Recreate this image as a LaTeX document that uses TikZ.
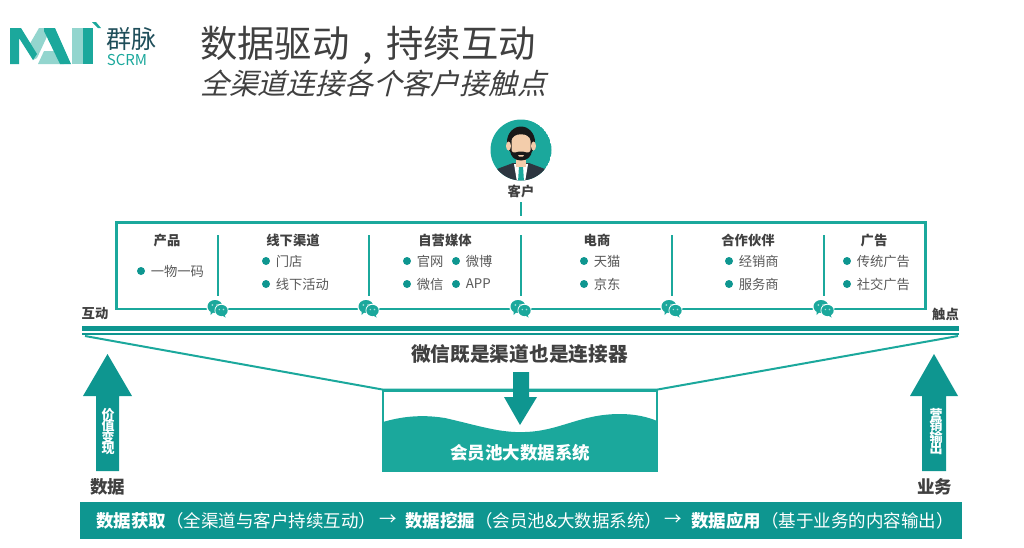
\documentclass[tikz,border=0pt]{standalone}
\usepackage{fontspec}
\usepackage{tikz}
\setmainfont{Noto Sans CJK SC}
\newfontfamily\slantcjk[FakeSlant=0.25]{Noto Sans CJK SC}
\usetikzlibrary{arrows}

\definecolor{maiteal}{HTML}{0E9690}
\definecolor{mailine}{HTML}{1BA89C}
\definecolor{mailight}{HTML}{93D5CE}
\definecolor{maideep}{HTML}{1F4E5A}
\definecolor{maidark}{HTML}{404040}
\definecolor{maigray}{HTML}{595959}
\definecolor{suitgray}{HTML}{2D3640}
\definecolor{skintone}{HTML}{F3CDAB}

% sizes are given in pixels of the picture, 1px = .75pt
\newcommand{\px}[1]{\fontsize{\fpeval{#1*.75}}{\fpeval{#1*.9}}\selectfont}

\tikzset{
  heading/.style={text=maidark,font=\px{13.3}\bfseries,inner sep=0},
  itemtext/.style={text=maigray,font=\px{13.3},anchor=west,inner sep=0},
  itemdot/.style={circle,fill=maiteal,inner sep=0,minimum size=6pt},
  upshaft/.style={fill=maiteal},
  stacked/.style={text=white,font=\px{13}\bfseries,inner sep=0,align=center},
  barbold/.style={text=white,font=\px{17.5}\bfseries,anchor=west,inner sep=0},
  chat/.pic={
    \fill[white] (0,0) circle (11);
    \fill[mailine] (-2.5,-1.5) ellipse (7.5 and 6.5);
    \fill[mailine] (-7,3) -- (-7,7) -- (-3,3);
    \fill[white] (3.8,2.5) circle (6.8);
    \fill[mailine] (4,2.5) ellipse (6.2 and 5.6);
    \fill[mailine] (7,6) -- (8,9.5) -- (4,7);
    \fill[white!60!mailine] (-5.2,-3) circle (1) (-.3,-3) circle (1) (1.8,1.5) circle (.8) (6,1.5) circle (.8);
  }
}

\begin{document}
\begin{tikzpicture}[x=.75pt,y=-.75pt,line cap=butt]
\useasboundingbox (0,0) rectangle (1024,547);

% logo
\fill[mailight] (28,47) -- (39,28) -- (51,28) -- (37,58) -- (33,60);
\fill[mailight] (44,51) -- (60,51) -- (64,64) -- (38,64);
\fill[mailight] (72,28) -- (83,28) -- (83,64) -- (72,64);
\fill[mailine] (10,28) -- (21,28) -- (37,54) -- (33,60) -- (19,38) -- (19,64) -- (10,64) -- cycle;
\fill[mailine] (44,28) -- (55,28) -- (71,64) -- (60,64) -- (44,31);
\fill[mailine] (83,28) -- (93,28) -- (93,64) -- (83,64);
\fill[mailine] (92,22) -- (96,22) -- (101,28) -- (98,28);
\node (logotext) at (131,39.5) [inner sep=0,text=maideep,font=\px{25}] {群脉};
\node (logoscrm) at (127,59.5) [inner sep=0,text=mailine,font=\px{15}] {SCRM};

\node (maintitle) at (368,45) [inner sep=0,text=maidark,font=\px{37.3}] {数据驱动\makebox[28pt]{,}持续互动};
\node (subtitle) at (373,83) [inner sep=0,text=maidark,font=\slantcjk\px{28.8}] {全渠道连接各个客户接触点};

% customer
\begin{scope}
\clip (521,150) circle (30.5);
\fill[mailine] (521,150) circle (30.5);
\fill[suitgray] (490,182) -- (497,169) -- (513,163) -- (529,163) -- (545,169) -- (552,182);
\fill[white] (514,164) -- (528,164) -- (525,182) -- (517,182);
\fill[mailine] (519,166) -- (523,166) -- (524,182) -- (518,182);
\fill[skintone] (516,155) rectangle (526,167);
\fill[black!90] (521,142) ellipse (14 and 15.5);
\fill[skintone] (508.5,146) ellipse (2.5 and 4.5) (533.5,146) ellipse (2.5 and 4.5);
\fill[skintone] (511.5,141) .. controls (512,132) and (530,132) .. (530.5,141) -- (530.5,150) .. controls (530,163) and (512,163) .. (511.5,150) -- cycle;
\fill[black!90] (510.5,150) .. controls (514,155) and (517,151) .. (521,151.5) .. controls (525,151) and (528,155) .. (531.5,150) .. controls (533,164) and (509,164) .. (510.5,150);
\fill[skintone] (518,155) -- (524,155) -- (523,156.5) -- (519,156.5);
\end{scope}
\node (customer) at (521,191.5) [heading] {客户};

% channel box
\node (channelbox) at (521,265.5) [draw=mailine,line width=2pt,minimum width=607pt,minimum height=65pt,inner sep=0] {};
\draw[mailine,line width=1.5pt,shorten <=3pt,shorten >=4pt] (customer.south) -- (channelbox.north);

\foreach \x in {218,369,521,672,824} {
  \draw[mailine,line width=.8pt] (\x,235) -- (\x,296);
  \pic at (\x-.5,308) {chat};
}

\node (hproduct) at (167,240) [heading] {产品};
\node (hoffline) at (293,240) [heading] {线下渠道};
\node (hmedia) at (445,240) [heading] {自营媒体};
\node (hshop) at (597,240) [heading] {电商};
\node (hpartner) at (748,240) [heading] {合作伙伴};
\node (hads) at (874,240) [heading] {广告};

\foreach \x/\y/\t in {141/271/一物一码,266/261/门店,266/284/线下活动,407/261/官网,456/261/微博,407/284/微信,456/284/APP,584/261/天猫,584/284/京东,729/261/经销商,729/284/服务商,847/261/传统广告,847/284/社交广告} {
  \node[itemdot] at (\x,\y) {};
  \node[itemtext] at (\x+9.5,\y) {\t};
}

\node (lefttouch) at (95,314) [heading] {互动};
\node (righttouch) at (945.5,314) [heading] {触点};

% wechat bar and funnel
\fill[maiteal] (82,325.5) rectangle (959,330.5);
\fill[maiteal] (82,332.5) rectangle (959,335);
\coordinate (funnelleft) at (85,336);
\coordinate (funnelright) at (958,336);
\node (pool) at (520,430.5) [draw=mailine,line width=1.5pt,minimum width=205pt,minimum height=60pt,inner sep=0] {};
\fill[mailine] (383,422) .. controls (400,417) and (420,414) .. (445,418) .. controls (480,426) and (500,433) .. (525,432) .. controls (560,431) and (580,414) .. (620,414) .. controls (635,414) and (648,417) .. (657,421) -- (657,471) -- (383,471) -- cycle;
\draw[mailine,line width=1.5pt,line join=round] (funnelleft) -- (pool.north west) -- (pool.north east) -- (funnelright);
\node (wechatlabel) at (519.5,354) [inner sep=0,text=maidark,font=\px{19.7}\bfseries] {微信既是渠道也是连接器};
\node (poollabel) at (520,453) [inner sep=0,text=white,font=\px{17.5}\bfseries] {会员池大数据系统};
\fill[maiteal] (513,372) -- (529,372) -- (529,397) -- (537,397) -- (520,425) -- (504,397) -- (513,397) -- cycle;

% side arrows
\fill[upshaft] (107.5,354) -- (132,396) -- (119,396) -- (119,471) -- (96,471) -- (96,396) -- (83,396) -- cycle;
\fill[upshaft] (934,354) -- (958,396) -- (946,396) -- (946,471) -- (922,471) -- (922,396) -- (910,396) -- cycle;
\node (leftstack) at (108,431.5) [stacked] {价\\[-3pt]值\\[-3pt]变\\[-3pt]现};
\node (rightstack) at (936,431.5) [stacked] {营\\[-3pt]销\\[-3pt]输\\[-3pt]出};
\node (leftlabel) at (107.5,487) [inner sep=0,text=maidark,font=\px{17.5}\bfseries] {数据};
\node (rightlabel) at (934.5,487) [inner sep=0,text=maidark,font=\px{17.5}\bfseries] {业务};

% bottom bar
\fill[maiteal] (80,502) rectangle (962,539);
\node (getdata) at (96,520.5) [barbold] {数据获取\mdseries（全渠道与客户持续互动）};
\node (arrowone) at (388,520.5) [inner sep=0,text=white,font=\px{17.5}] {→};
\node (minedata) at (405,520.5) [barbold] {数据挖掘\mdseries（会员池\&大数据系统）};
\node (arrowtwo) at (673,520.5) [inner sep=0,text=white,font=\px{17.5}] {→};
\node (usedata) at (691,520.5) [barbold] {数据应用\mdseries（基于业务的内容输出）};

\end{tikzpicture}
\end{document}
